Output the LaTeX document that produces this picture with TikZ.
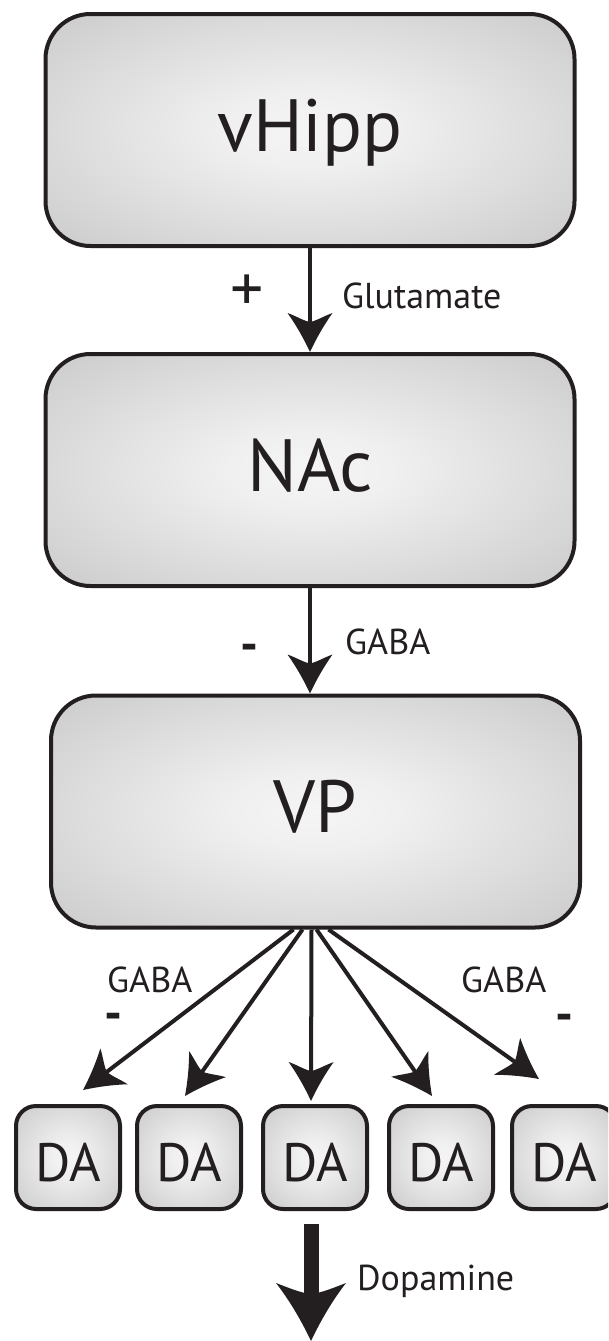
\documentclass[tikz,border=0pt]{standalone}
\usepackage{fontspec}
\setmainfont{PT Sans}
\usetikzlibrary{arrows.meta,calc}
\definecolor{ink}{HTML}{231F20}
% soft grey fill, light in the middle and darker toward the corners
\pgfdeclareradialshading{boxshade}{\pgfpointorigin}{%
  color(0bp)=(white!96!black);
  color(8bp)=(white!94!black);
  color(50bp)=(white!72!black);
  color(72bp)=(white!60!black)}
% arrow heads with slightly concave flanks
\pgfdeclarearrow{
  name = Barb,
  setup code = {
    \pgfarrowssettipend{0pt}
    \pgfarrowssetlineend{-25pt}
    \pgfarrowssetbackend{-39pt}
    \pgfarrowshullpoint{0pt}{0pt}
    \pgfarrowshullpoint{-39pt}{22.5pt}
    \pgfarrowshullpoint{-39pt}{-22.5pt}
  },
  drawing code = {
    \pgfsetfillcolor{ink}
    \pgfpathmoveto{\pgfpointorigin}
    \pgfpathcurveto{\pgfpoint{-14pt}{6.5pt}}{\pgfpoint{-27pt}{14pt}}{\pgfpoint{-39pt}{22.5pt}}
    \pgfpathcurveto{\pgfpoint{-36pt}{14pt}}{\pgfpoint{-31pt}{6pt}}{\pgfpoint{-30pt}{0pt}}
    \pgfpathcurveto{\pgfpoint{-31pt}{-6pt}}{\pgfpoint{-36pt}{-14pt}}{\pgfpoint{-39pt}{-22.5pt}}
    \pgfpathcurveto{\pgfpoint{-27pt}{-14pt}}{\pgfpoint{-14pt}{-6.5pt}}{\pgfpointorigin}
    \pgfpathclose
    \pgfusepathqfill
  }
}
\pgfdeclarearrow{
  name = BigBarb,
  setup code = {
    \pgfarrowssettipend{0pt}
    \pgfarrowssetlineend{-40pt}
    \pgfarrowssetbackend{-58pt}
    \pgfarrowshullpoint{0pt}{0pt}
    \pgfarrowshullpoint{-58pt}{35pt}
    \pgfarrowshullpoint{-58pt}{-35pt}
  },
  drawing code = {
    \pgfsetfillcolor{ink}
    \pgfpathmoveto{\pgfpointorigin}
    \pgfpathcurveto{\pgfpoint{-20pt}{9.5pt}}{\pgfpoint{-40pt}{21pt}}{\pgfpoint{-58pt}{35pt}}
    \pgfpathcurveto{\pgfpoint{-53pt}{22pt}}{\pgfpoint{-48pt}{10pt}}{\pgfpoint{-47pt}{0pt}}
    \pgfpathcurveto{\pgfpoint{-48pt}{-10pt}}{\pgfpoint{-53pt}{-22pt}}{\pgfpoint{-58pt}{-35pt}}
    \pgfpathcurveto{\pgfpoint{-40pt}{-21pt}}{\pgfpoint{-20pt}{-9.5pt}}{\pgfpointorigin}
    \pgfpathclose
    \pgfusepathqfill
  }
}
\tikzset{
  region/.style={shade, shading=boxshade, draw=ink, line width=4pt,
    rounded corners=45pt, minimum width=529pt, minimum height=232pt,
    inner sep=0pt, text=ink, font=\fontsize{74pt}{80pt}\selectfont,
    text height=51.8pt, text depth=9pt},
  cell/.style={shade, shading=boxshade, draw=ink, line width=4pt,
    rounded corners=20pt, minimum width=104pt, minimum height=103pt,
    inner sep=0pt, text=ink, font=\fontsize{54pt}{60pt}\selectfont,
    text height=47.5pt, text depth=0pt},
  lbl/.style={inner sep=0pt, text=ink, font=\fontsize{36pt}{40pt}\selectfont},
  sign/.style={inner sep=0pt, text=ink, anchor=base,
    font=\fontsize{50pt}{54pt}\selectfont\bfseries},
  arr/.style={draw=ink, line width=4pt, -Barb},
  bigarr/.style={draw=ink, line width=15pt, -BigBarb}
}
\begin{document}
\begin{tikzpicture}[x=1pt, y=-1pt]
\clip (0,0) rectangle (608,1341);
\fill[white] (0,0) rectangle (608,1341);

% the three regions
\node[region] (vHipp) at (310,130) {vHipp};
\node[region] (NAc) at (310,470) {NAc};
\node[region] (VP) at (315.5,811.5) {VP};

% dopamine cells
\node[cell] (DA1) at (68,1157.5) {DA};
\node[cell] (DA2) at (189,1157.5) {DA};
\node[cell] (DA3) at (315,1157.5) {DA};
\node[cell] (DA4) at (441,1157.5) {DA};
\node[cell] (DA5) at (564,1157.5) {DA};

% projections
\draw[arr] (vHipp.south) -- (NAc.north);
\draw[arr] (NAc.south) -- (NAc.south |- VP.north);
\draw[arr] ($(VP.south)+(-22,0)$) -- ($(DA1.north)+(15,-14)$);
\draw[arr] ($(VP.south)+(-13,0)$) -- ($(DA2.north)+(-4,-8)$);
\draw[arr] ($(VP.south)+(-4,0)$) -- ($(DA3.north)+(-4,-3)$);
\draw[arr] ($(VP.south)+(1,0)$) -- ($(DA4.north)+(-9,-8)$);
\draw[arr] ($(VP.south)+(13,0)$) -- ($(DA5.north)+(-25,-25)$);
\draw[bigarr] ($(DA3.south)+(-4,13)$) -- ($(DA3.south)+(-4,130)$);

% labels
\node[sign, font=\fontsize{66pt}{70pt}\selectfont] (plus) at (247,311) {+};
\node[lbl, anchor=base west] (glu) at (342,308) {Glutamate};
\node[sign] (minus1) at (249,661) {-};
\node[lbl, anchor=base west] (gaba1) at (345,654) {GABA};
\node[lbl, anchor=base west] (gabaL) at (107,992) {GABA};
\node[lbl, anchor=base west] (gabaR) at (461,992) {GABA};
\node[sign] (minusL) at (113,1030) {-};
\node[sign] (minusR) at (564,1031) {-};
\node[lbl, anchor=base west] (dopa) at (357,1290) {Dopamine};
\end{tikzpicture}
\end{document}
